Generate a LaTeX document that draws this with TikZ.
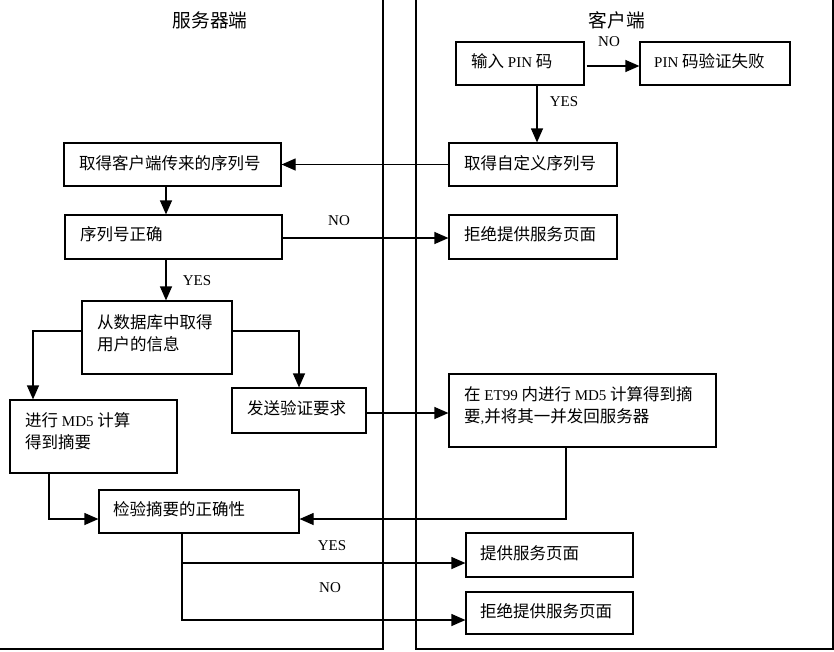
\documentclass[tikz,border=0pt]{standalone}
\usepackage{fontspec}
\setmainfont{Liberation Serif}
\newfontfamily\cjkfont[Scale=1.1]{Noto Sans CJK SC}
\newcommand\zh[1]{{\cjkfont #1}}
\usetikzlibrary{arrows.meta,calc}
\tikzset{
  box/.style={draw, line width=1.2pt, rectangle, inner sep=0pt},
  txt/.style={anchor=west, inner sep=0pt, align=left, font=\fontsize{15pt}{22pt}\selectfont},
  lbl/.style={inner sep=0pt, font=\fontsize{15pt}{18pt}\selectfont},
  ttl/.style={inner sep=0pt, font=\fontsize{17pt}{20pt}\selectfont},
  arr/.style={line width=1.2pt, -{Triangle[length=14pt,width=12pt]}},
  lane/.style={line width=1.5pt},
}
\begin{document}
\begin{tikzpicture}[x=1pt,y=-1pt]
\useasboundingbox[fill=white] (0,0) rectangle (834,651);
% lanes
\draw[lane] (0,649) -- (383,649) -- (383,0);
\draw[lane] (416,0) -- (416,649) -- (833,649) -- (833,0);
\node[ttl] (st) at (210,20) {\zh{服务器端}};
\node[ttl] (ct) at (617,20) {\zh{客户端}};
% boxes
\node[box, minimum width=128pt, minimum height=43pt] (A) at (520,63.5) {};
\node[box, minimum width=150pt, minimum height=43pt] (B) at (715,63.5) {};
\node[box, minimum width=168pt, minimum height=43pt] (C) at (533,164.5) {};
\node[box, minimum width=217pt, minimum height=43pt] (D) at (172.5,164.5) {};
\node[box, minimum width=217pt, minimum height=44pt] (E) at (173.5,237) {};
\node[box, minimum width=168pt, minimum height=44pt] (F) at (533,237) {};
\node[box, minimum width=150pt, minimum height=73pt] (G) at (157,337.5) {};
\node[box, minimum width=167pt, minimum height=73pt] (H) at (93.5,436.5) {};
\node[box, minimum width=134pt, minimum height=45pt] (I) at (299,410.5) {};
\node[box, minimum width=267pt, minimum height=73pt] (J) at (582.5,410.5) {};
\node[box, minimum width=200pt, minimum height=43pt] (K) at (199,511.5) {};
\node[box, minimum width=167pt, minimum height=44pt] (L) at (549.5,555) {};
\node[box, minimum width=167pt, minimum height=42pt] (M) at (549.5,613) {};
% texts
\node[txt] (At) at (471,61) {\zh{输入} PIN \zh{码}};
\node[txt] (Bt) at (654,61) {PIN \zh{码验证失败}};
\node[txt] (Ct) at (464,163) {\zh{取得自定义序列号}};
\node[txt] (Dt) at (79,163) {\zh{取得客户端传来的序列号}};
\node[txt] (Et) at (80,234) {\zh{序列号正确}};
\node[txt] (Ft) at (464,234) {\zh{拒绝提供服务页面}};
\node[txt] (Gt) at (97,333) {\zh{从数据库中取得}\\\zh{用户的信息}};
\node[txt] (Ht) at (25,431) {\zh{进行} MD5 \zh{计算}\\\zh{得到摘要}};
\node[txt] (It) at (247,408) {\zh{发送验证要求}};
\node[txt] (Jt) at (464,405.5) {\zh{在} ET99 \zh{内进行} MD5 \zh{计算得到摘}\\\zh{要},\zh{并将其一并发回服务器}};
\node[txt] (Kt) at (113,509) {\zh{检验摘要的正确性}};
\node[txt] (Lt) at (480,553) {\zh{提供服务页面}};
\node[txt] (Mt) at (480,611) {\zh{拒绝提供服务页面}};
% connectors
\draw[arr] ($(A.east)+(2,2.5)$) -- ($(B.west)+(0,2.5)$);
\node[lbl] (no1) at (609,42) {NO};
\draw[arr] ($(A.south)+(17,0)$) -- ($(C.north)+(4,0)$);
\node[lbl] (yes1) at (564,102) {YES};
\draw[arr] (C.west) -- (D.east);
\draw[arr] ($(D.south)+(-6.5,0)$) -- ($(E.north)+(-7.5,0)$);
\draw[arr] ($(E.east)+(0,1)$) -- ($(F.west)+(0,1)$);
\node[lbl] (no2) at (339,221) {NO};
\draw[arr] ($(E.south)+(-7.5,0)$) -- ($(G.north)+(9,0)$);
\node[lbl] (yes2) at (197,281) {YES};
\draw[arr] ($(G.west)+(0,-6.5)$) -| ($(H.north)+(-60.5,0)$);
\draw[arr] ($(G.east)+(0,-6.5)$) -| (I.north);
\draw[arr] ($(I.east)+(0,2.5)$) -- ($(J.west)+(0,2.5)$);
\draw[arr] ($(H.south)+(-44.5,0)$) |- ($(K.west)+(0,7.5)$);
\draw[arr] ($(J.south)+(-16.5,0)$) |- ($(K.east)+(0,7.5)$);
\draw[arr] ($(K.south)+(-17,0)$) |- ($(L.west)+(0,8)$);
\draw[arr] ($(K.south)+(-17,0)$) |- ($(M.west)+(0,7)$);
\node[lbl] (yes3) at (332,546) {YES};
\node[lbl] (no3) at (330,588) {NO};
\end{tikzpicture}
\end{document}
